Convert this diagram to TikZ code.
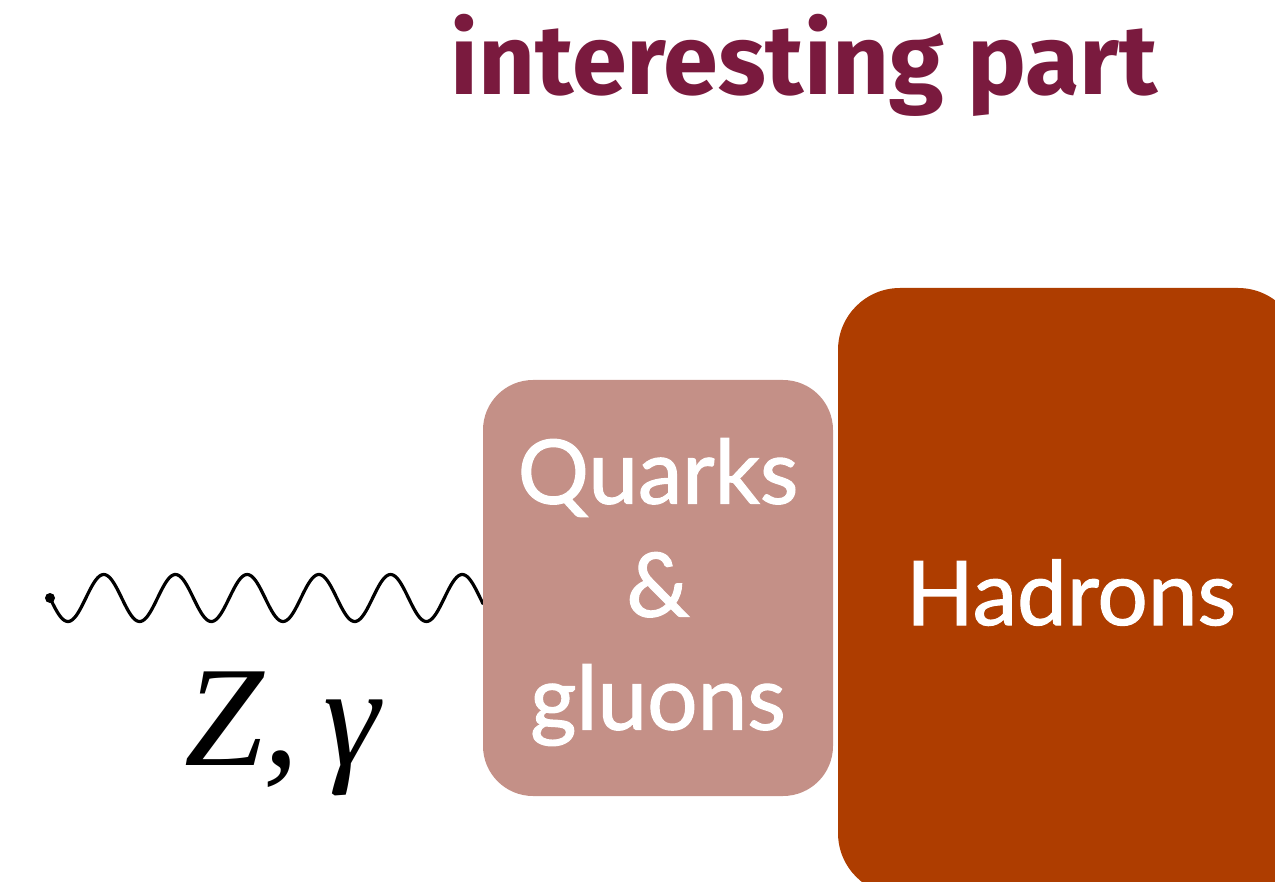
\documentclass[tikz,border=0pt]{standalone}
\usepackage{fontspec}
\setmainfont{Lato}
\newfontfamily\boxfont[FakeBold=1.3]{Lato}
\newfontfamily\titlefont{Fira Sans}
\newfontfamily\serifit{Liberation Serif}
\definecolor{titlecol}{HTML}{7A1A3E}
\definecolor{qgcol}{HTML}{C49087}
\definecolor{hadcol}{HTML}{AE3D00}
\begin{document}
\begin{tikzpicture}[x=1pt,y=-1pt,
  boxtext/.style={text=white, font=\boxfont\fontsize{89}{113}\selectfont, align=center}]
\useasboundingbox (0,0) rectangle (1275,882);
% wave
\coordinate (ws) at (50,598);
\coordinate (we) at (483,598);
\draw[line width=3.2pt, line cap=round] plot[domain=50:483, samples=300] (\x, {598 + 23.5*sin(5.0209*(\x-50))});
\fill (ws) circle (5pt);
\node[anchor=base, font=\serifit\itshape\fontsize{143}{145}\selectfont] (zg) at (282,765) {Z,\,γ};
% boxes
\fill[qgcol, rounded corners=50pt] (483,380) rectangle (833,796);
\node[boxtext] (qgt) at (658,592) {Quarks\\\&\\gluons};
\fill[hadcol, rounded corners=62pt] (838,288) rectangle (1300,895);
\node[boxtext, anchor=base] (hadt) at (1071,625) {Hadrons};
% title
\node[anchor=base, text=titlecol, font=\titlefont\bfseries\fontsize{99}{100}\selectfont] (title) at (804,95) {interesting part};
\end{tikzpicture}
\end{document}
